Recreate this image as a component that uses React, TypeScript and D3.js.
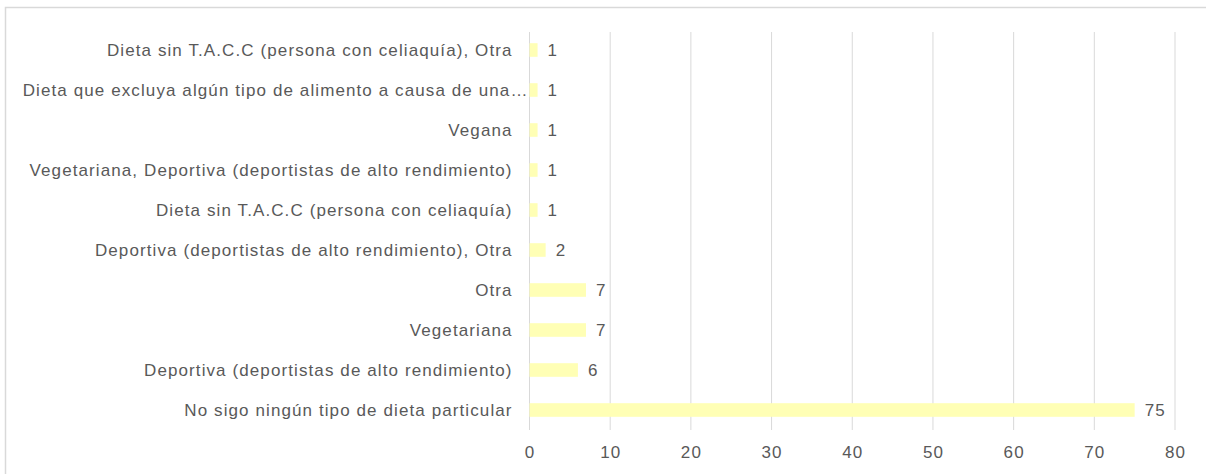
import React from 'react';
import * as d3 from 'd3';

// categories from top to bottom, as shown
const categories = [
  'Dieta sin T.A.C.C (persona con celiaquía), Otra',
  'Dieta que excluya algún tipo de alimento a causa de una…',
  'Vegana',
  'Vegetariana, Deportiva (deportistas de alto rendimiento)',
  'Dieta sin T.A.C.C (persona con celiaquía)',
  'Deportiva (deportistas de alto rendimiento), Otra',
  'Otra',
  'Vegetariana',
  'Deportiva (deportistas de alto rendimiento)',
  'No sigo ningún tipo de dieta particular',
];
const values = [1, 1, 1, 1, 1, 2, 7, 7, 6, 75];
const xTicks = [0, 10, 20, 30, 40, 50, 60, 70, 80];

const W = 1206;
const H = 474;
const margin = { top: 30, right: 31, bottom: 44, left: 529.5 };
const textColor = '#595959';
const font = 'Arial, "Liberation Sans", sans-serif';
const fs = 17;
const ls = 1.1;

const App: React.FC = () => {
  const x = d3.scaleLinear().domain([0, 80]).range([margin.left, W - margin.right]);
  const y = d3.scaleBand<string>()
    .domain(categories)
    .range([margin.top, H - margin.bottom])
    .paddingInner(0.66)
    .paddingOuter(0.33);
  const rowTop = margin.top;
  const rowBottom = H - margin.bottom;

  return (
    <svg width={W} height={H} style={{ position: 'absolute', left: 0, top: 0, background: '#fff' }}
      fontFamily={font}>
      {/* chart frame */}
      <rect x={5.5} y={7.5} width={W + 10} height={H + 10} fill="#fff" stroke="#d9d9d9" strokeWidth={1.5} />

      {/* gridlines */}
      {xTicks.map(t => (
        <line key={t} x1={x(t)} x2={x(t)} y1={rowTop + 2} y2={rowBottom}
          stroke="#d9d9d9" strokeWidth={1} />
      ))}

      {/* bars */}
      {categories.map((c, i) => (
        <rect key={c} x={x(0)} y={y(c)} width={x(values[i]) - x(0)} height={y.bandwidth()}
          fill="#ffffb5" />
      ))}

      {/* value labels */}
      {categories.map((c, i) => (
        <text key={c} x={x(values[i]) + 10} y={(y(c) ?? 0) + y.bandwidth() / 2} dy="0.36em"
          fontSize={fs} letterSpacing={ls} fill={textColor}>{values[i]}</text>
      ))}

      {/* category labels */}
      {categories.map(c => (
        <text key={c} x={c.endsWith('…') ? x(0) - 1 : x(0) - 18 + ls}
          y={(y(c) ?? 0) + y.bandwidth() / 2} dy="0.36em"
          textAnchor="end" fontSize={fs} letterSpacing={ls} fill={textColor}>{c}</text>
      ))}

      {/* x tick labels */}
      {xTicks.map(t => (
        <text key={t} x={x(t) + ls / 2} y={rowBottom + 22} dy="0.36em" textAnchor="middle"
          fontSize={fs} letterSpacing={ls} fill={textColor}>{t}</text>
      ))}
    </svg>
  );
};

export default App;
